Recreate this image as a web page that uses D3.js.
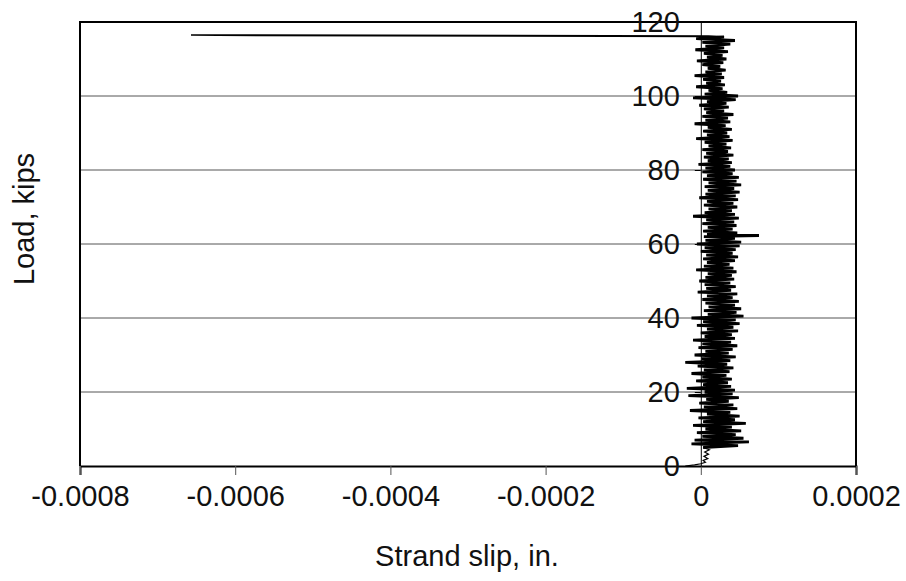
<!DOCTYPE html>
<html>
<head>
<meta charset="utf-8">
<script src="https://cdn.jsdelivr.net/npm/d3@7"></script>
<style>
  body { margin: 0; background: #fff; }
  text { font-family: "Liberation Sans", Arial, sans-serif; fill: #111; }
</style>
</head>
<body>
<script>
// x ticks (in.) and y ticks (kips)
var xTicks = [-0.0008, -0.0006, -0.0004, -0.0002, 0, 0.0002];
var yTicks = [0, 20, 40, 60, 80, 100, 120];
var xLabel = "Strand slip, in.";
var yLabel = "Load, kips";

// start of test: [load (kips), slip (micro-in.)]
var startPts = [
  [0, -20], [0.3, -8], [0.6, 0], [1, 6], [1.5, 3], [2, 9], [2.6, 4],
  [3.2, 10], [3.8, 5], [4.4, 11], [5, 3]
];

// noisy part of the record
var bandPts = [
  [5.5, 48], [6, -12], [6.5, 62], [7, -8], [7.5, 55], [8, 2], [8.5, 45], [9, -5], [9.5, 52], [10, 6],
  [10.5, 40], [11, -10], [11.5, 58], [12, 3], [12.5, 44], [13, -3], [13.5, 50], [14, 8], [14.5, 38], [15, -14],
  [15.5, 47], [16, 4], [16.5, 42], [17, -2], [17.5, 36], [18, 7], [18.5, 49], [19, -16], [19.5, 41], [20, 5],
  [20.5, 44], [21, -18], [21.5, 39], [22, 3], [22.5, 35], [23, -6], [23.5, 40], [24, 2], [24.5, 33], [25, -12],
  [25.5, 37], [26, 4], [26.5, 42], [27, -4], [27.5, 34], [28, -20], [28.5, 38], [29, 1], [29.5, 45], [30, -8],
  [30.5, 36], [31, 6], [31.5, 41], [32, -3], [32.5, 47], [33, 2], [33.5, 39], [34, -10], [34.5, 44], [35, 5],
  [35.5, 40], [36, 0], [36.5, 48], [37, 8], [37.5, 42], [38, -5], [38.5, 50], [39, 3], [39.5, 45], [40, -12],
  [40.5, 55], [41, 9], [41.5, 46], [42, 4], [42.5, 52], [43, 10], [43.5, 44], [44, 6], [44.5, 49], [45, 2],
  [45.5, 41], [46, 8], [46.5, 47], [47, -4], [47.5, 39], [48, 7], [48.5, 45], [49, 5], [49.5, 38], [50, -2],
  [50.5, 43], [51, 6], [51.5, 40], [52, 9], [52.5, 46], [53, -6], [53.5, 42], [54, 4], [54.5, 37], [55, 8],
  [55.5, 44], [56, 3], [56.5, 48], [57, 7], [57.5, 41], [58, 0], [58.5, 45], [59, 5], [59.5, 50], [60, -5],
  [60.5, 52], [61, 6], [61.5, 44], [62, 4], [62.3, 75], [62.6, 8], [63, 47], [63.5, 3], [64, 41], [64.5, 9],
  [65, 46], [65.5, 2], [66, 43], [66.5, 7], [67, 49], [67.5, -10], [68, 44], [68.5, 5], [69, 40], [69.5, 10],
  [70, 47], [70.5, 4], [71, 42], [71.5, 8], [72, 48], [72.5, -2], [73, 45], [73.5, 6], [74, 50], [74.5, 9],
  [75, 43], [75.5, 5], [76, 52], [76.5, 10], [77, 46], [77.5, 3], [78, 49], [78.5, 8], [79, 41], [79.5, 2],
  [80, 44], [80.5, 6], [81, 38], [81.5, -3], [82, 40], [82.5, 9], [83, 36], [83.5, 4], [84, 42], [84.5, 7],
  [85, 35], [85.5, 2], [86, 39], [86.5, 10], [87, 33], [87.5, 5], [88, 41], [88.5, -6], [89, 37], [89.5, 8],
  [90, 34], [90.5, 3], [91, 40], [91.5, 9], [92, 32], [92.5, -8], [93, 38], [93.5, 6], [94, 35], [94.5, 2],
  [95, 42], [95.5, 7], [96, 30], [96.5, 4], [97, 36], [97.5, -2], [98, 33], [98.5, 8], [99, 45], [99.5, -10],
  [100, 48], [100.5, 5], [101, 34], [101.5, 10], [102, 28], [102.5, -6], [103, 31], [103.5, 7], [104, 26], [104.5, 3],
  [105, 30], [105.5, -8], [106, 27], [106.5, 6], [107, 32], [107.5, 9], [108, 25], [108.5, 2], [109, 29], [109.5, -5],
  [110, 33], [110.5, 8], [111, 28], [111.5, 4], [112, 35], [112.5, -7], [113, 30], [113.5, 6], [114, 38], [114.5, 2],
  [115, 44], [115.5, -6], [116, 30]
];

// the single excursion near the top
var spikePts = [
  [116.2, 10], [116.5, -657], [116.4, -622], [116.1, 12], [115.8, 6]
];

var width = 906, height = 581;
var svg = d3.select("body").append("svg")
  .attr("width", width)
  .attr("height", height);

var x = d3.scaleLinear().domain([-0.0008, 0.0002]).range([80, 856]);
var y = d3.scaleLinear().domain([0, 120]).range([466, 22]);

// grid lines
svg.append("g")
  .selectAll("line")
  .data(yTicks.filter(function (d) { return d > 0 && d < 120; }))
  .enter().append("line")
  .attr("x1", x(-0.0008)).attr("x2", x(0.0002))
  .attr("y1", function (d) { return y(d); })
  .attr("y2", function (d) { return y(d); })
  .attr("stroke", "#555")
  .attr("stroke-width", 1);

// data
var line = d3.line()
  .x(function (d) { return x(d[1] * 1e-6); })
  .y(function (d) { return y(d[0]); });

svg.append("path")
  .datum(startPts)
  .attr("d", line)
  .attr("fill", "none")
  .attr("stroke", "#000")
  .attr("stroke-width", 1.2);

svg.append("path")
  .datum([startPts[startPts.length - 1]].concat(bandPts))
  .attr("d", line)
  .attr("fill", "none")
  .attr("stroke", "#000")
  .attr("stroke-width", 2.8)
  .attr("stroke-linejoin", "bevel");

svg.append("path")
  .datum([bandPts[bandPts.length - 1]].concat(spikePts))
  .attr("d", line)
  .attr("fill", "none")
  .attr("stroke", "#000")
  .attr("stroke-width", 1.6)
  .attr("stroke-linejoin", "bevel");

// plot frame (left, top, right)
svg.append("path")
  .attr("d", "M" + x(-0.0008) + "," + y(0) + "V" + y(120) + "H" + x(0.0002) + "V" + y(0))
  .attr("fill", "none")
  .attr("stroke", "#000")
  .attr("stroke-width", 2);

// x axis along load = 0
var xAxis = d3.axisBottom(x)
  .tickValues(xTicks)
  .tickSize(9)
  .tickPadding(10)
  .tickFormat(function (d) { return d === 0 ? "0" : d3.format(".4f")(d).replace("−", "-"); });

var gx = svg.append("g")
  .attr("transform", "translate(0," + y(0) + ")")
  .call(xAxis);
gx.select(".domain").attr("stroke", "#000").attr("stroke-width", 2);
gx.selectAll(".tick line").attr("stroke", "#555");
gx.selectAll("text").style("font-size", "29px").attr("fill", "#111");

// y axis crossing at slip = 0
var yAxis = d3.axisLeft(y)
  .tickValues(yTicks)
  .tickSize(6)
  .tickPadding(15);

var gy = svg.append("g")
  .attr("transform", "translate(" + x(0) + ",0)")
  .call(yAxis);
gy.select(".domain").attr("stroke", "#000").attr("stroke-width", 1);
gy.selectAll(".tick line").attr("stroke", "#000");
gy.selectAll("text").style("font-size", "29px").attr("fill", "#111");

// titles
svg.append("text")
  .attr("x", 467)
  .attr("y", 566)
  .attr("text-anchor", "middle")
  .style("font-size", "29px")
  .text(xLabel);

svg.append("text")
  .attr("transform", "translate(34,219) rotate(-90)")
  .attr("text-anchor", "middle")
  .style("font-size", "29px")
  .text(yLabel);
</script>
</body>
</html>
